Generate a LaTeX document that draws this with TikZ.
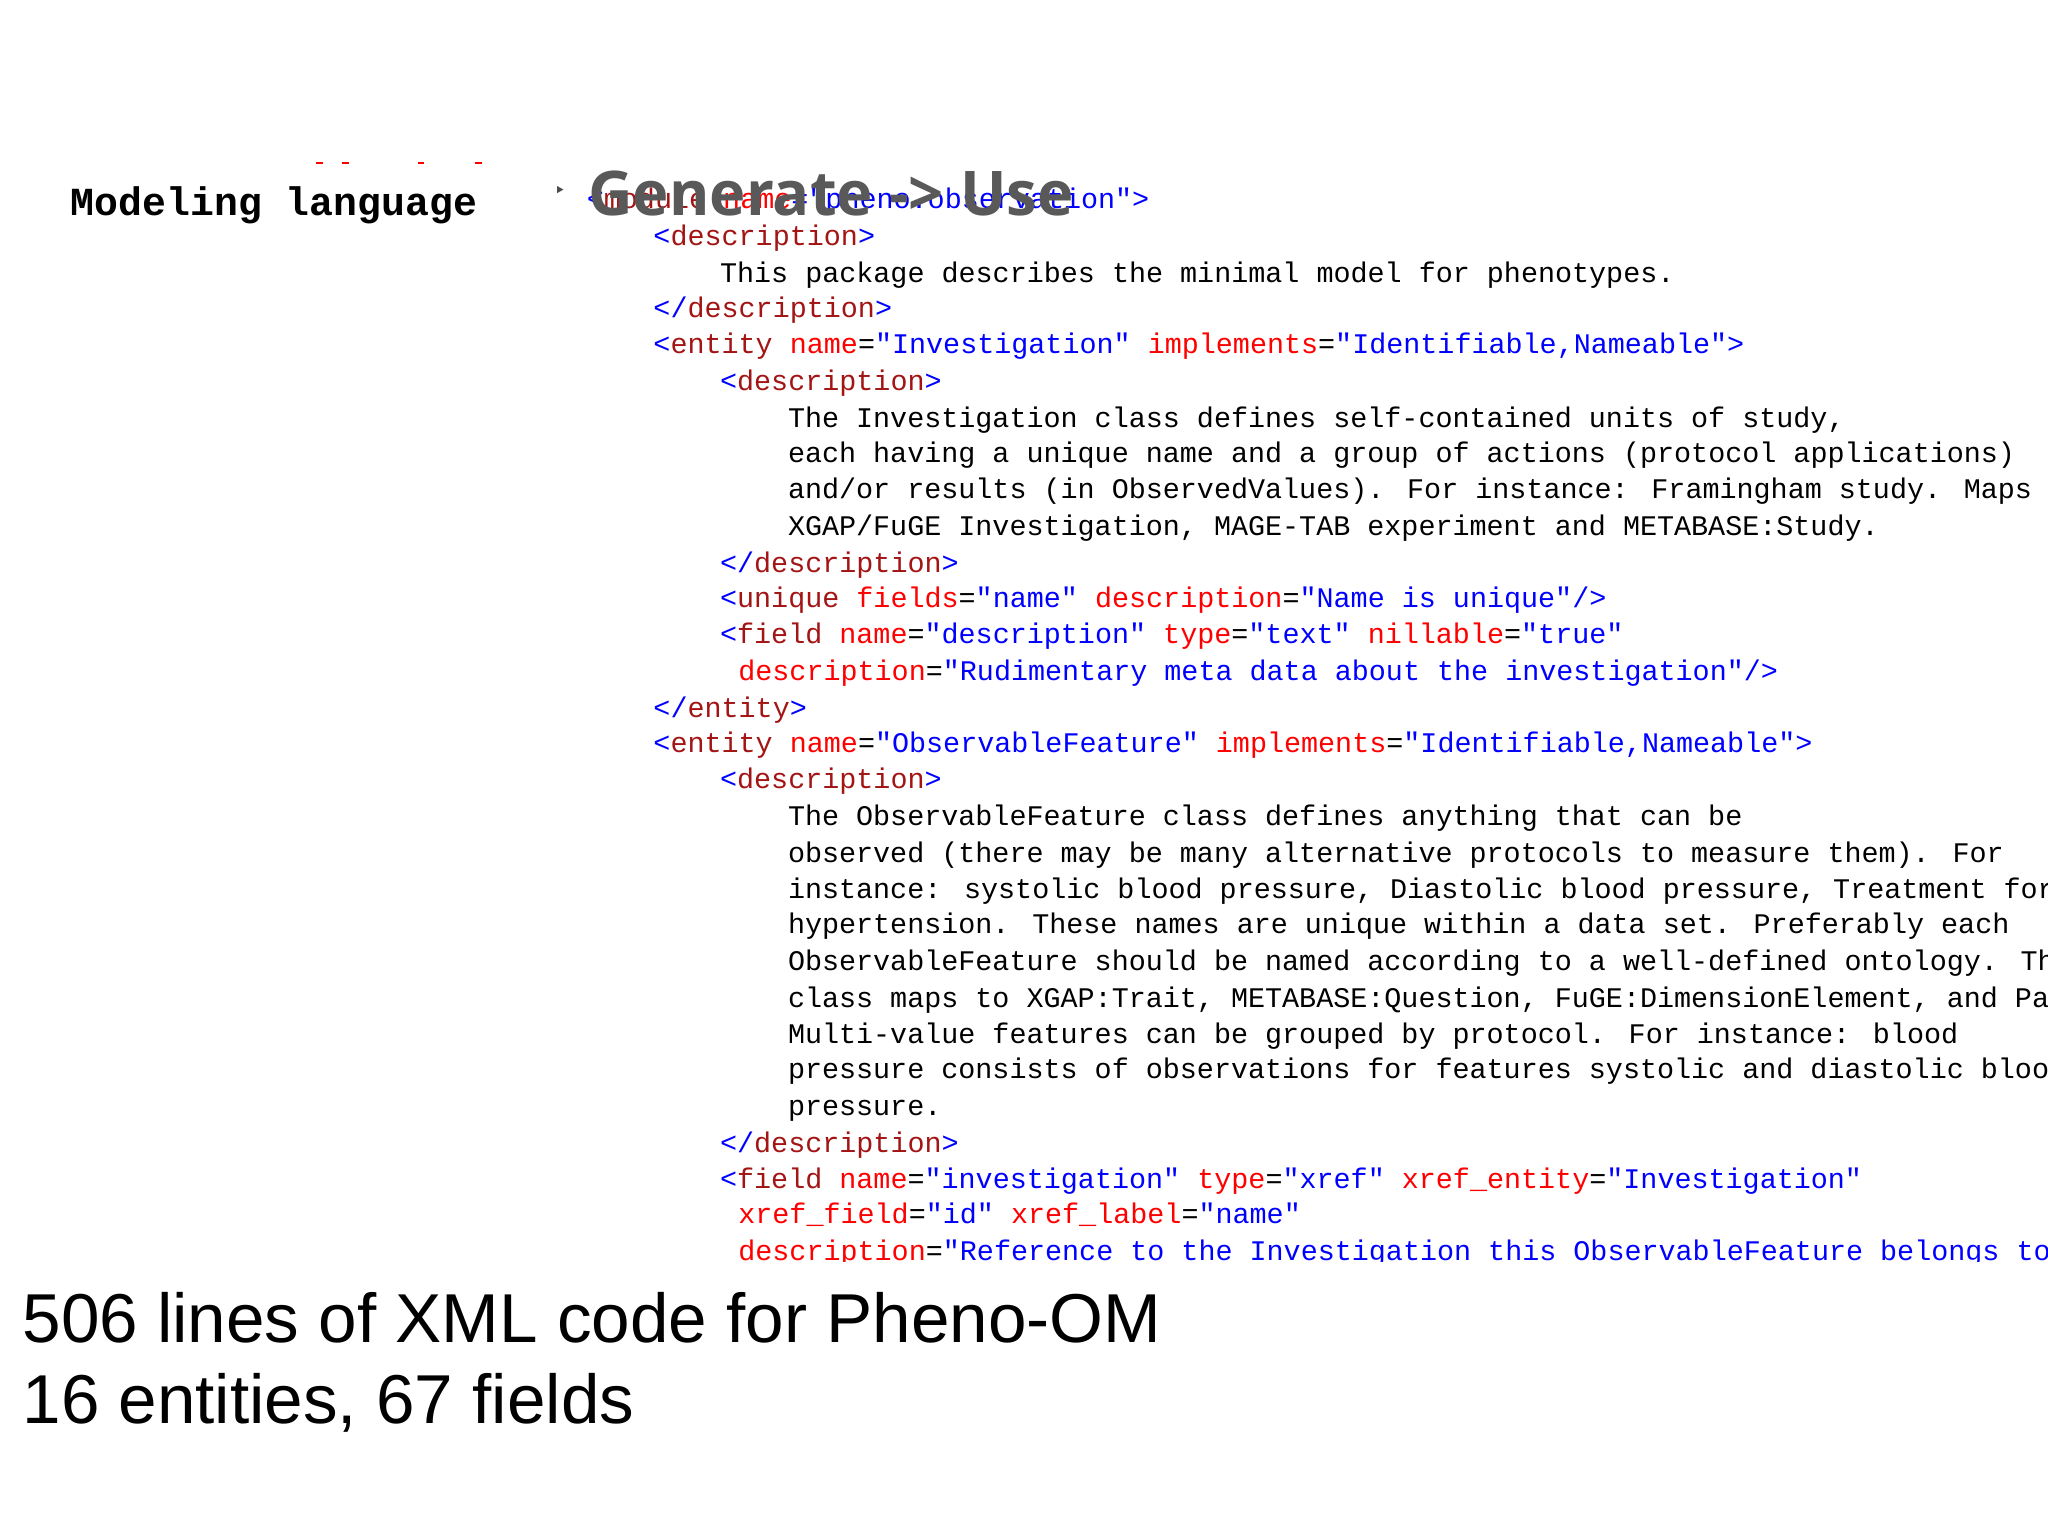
\documentclass[tikz,border=0pt]{standalone}
\usepackage{fontspec}
\setmainfont{Liberation Sans}
\newfontfamily\cf{Liberation Mono}
\newfontfamily\gf{Open Sans}
\newfontfamily\dv{DejaVu Sans}
\definecolor{tgc}{HTML}{A31515}
\definecolor{atc}{HTML}{FF0000}
\definecolor{vlc}{HTML}{0000FF}
\newcommand\Bl[1]{\textcolor{vlc}{#1}}
\newcommand\Tg[1]{\textcolor{tgc}{#1}}
\newcommand\At[1]{\textcolor{atc}{#1}}
\begin{document}
\begin{tikzpicture}[x=0.653pt,y=-0.653pt,
  code/.style={anchor=base west,inner sep=0pt,font=\cf\fontsize{14.2pt}{16pt}\selectfont}]
\useasboundingbox (0,0) rectangle (1568,1176);
\fill[white] (0,0) rectangle (1568,1176);
\node[anchor=base west,inner sep=0pt,font=\cf\bfseries\fontsize{19.9pt}{22pt}\selectfont] (ml) at (54,165) {Modeling language};
\foreach \xx in {242,262,320,364}{\draw[red,line width=1.2pt] (\xx,125) -- (\xx+5,125);}
\begin{scope}
\clip (0,0) rectangle (1568,966);
\node[code] (l0) at (449,160) {\Bl{<}\Tg{module} \At{name}\Bl{="pheno.observation">}};
\node[code] (l1) at (500,188) {\Bl{<}\Tg{description}\Bl{>}};
\node[code] (l2) at (551,216) {This package describes the minimal model for phenotypes.};
\node[code] (l3) at (500,243) {\Bl{</}\Tg{description}\Bl{>}};
\node[code] (l4) at (500,271) {\Bl{<}\Tg{entity} \At{name}=\Bl{"Investigation"} \At{implements}=\Bl{"Identifiable,Nameable">}};
\node[code] (l5) at (551,299) {\Bl{<}\Tg{description}\Bl{>}};
\node[code] (l6) at (603,327) {The Investigation class defines self-contained units of study,};
\node[code] (l7) at (603,354) {each having a unique name and a group of actions (protocol applications)};
\node[code] (l8) at (603,382) {and/or results (in ObservedValues). For instance: Framingham study. Maps to};
\node[code] (l9) at (603,410) {XGAP/FuGE Investigation, MAGE-TAB experiment and METABASE:Study.};
\node[code] (l10) at (551,438) {\Bl{</}\Tg{description}\Bl{>}};
\node[code] (l11) at (551,465) {\Bl{<}\Tg{unique} \At{fields}=\Bl{"name"} \At{description}=\Bl{"Name is unique"/>}};
\node[code] (l12) at (551,493) {\Bl{<}\Tg{field} \At{name}=\Bl{"description"} \At{type}=\Bl{"text"} \At{nillable}=\Bl{"true"}};
\node[code] (l13) at (565,521) {\At{description}=\Bl{"Rudimentary meta data about the investigation"/>}};
\node[code] (l14) at (500,549) {\Bl{</}\Tg{entity}\Bl{>}};
\node[code] (l15) at (500,576) {\Bl{<}\Tg{entity} \At{name}=\Bl{"ObservableFeature"} \At{implements}=\Bl{"Identifiable,Nameable">}};
\node[code] (l16) at (551,604) {\Bl{<}\Tg{description}\Bl{>}};
\node[code] (l17) at (603,632) {The ObservableFeature class defines anything that can be};
\node[code] (l18) at (603,660) {observed (there may be many alternative protocols to measure them). For};
\node[code] (l19) at (603,688) {instance: systolic blood pressure, Diastolic blood pressure, Treatment for};
\node[code] (l20) at (603,715) {hypertension. These names are unique within a data set. Preferably each};
\node[code] (l21) at (603,743) {ObservableFeature should be named according to a well-defined ontology. The};
\node[code] (l22) at (603,771) {class maps to XGAP:Trait, METABASE:Question, FuGE:DimensionElement, and Pato};
\node[code] (l23) at (603,799) {Multi-value features can be grouped by protocol. For instance: blood};
\node[code] (l24) at (603,826) {pressure consists of observations for features systolic and diastolic blood};
\node[code] (l25) at (603,854) {pressure.};
\node[code] (l26) at (551,882) {\Bl{</}\Tg{description}\Bl{>}};
\node[code] (l27) at (551,910) {\Bl{<}\Tg{field} \At{name}=\Bl{"investigation"} \At{type}=\Bl{"xref"} \At{xref\_entity}=\Bl{"Investigation"}};
\node[code] (l28) at (565,937) {\At{xref\_field}=\Bl{"id"} \At{xref\_label}=\Bl{"name"}};
\node[code] (l29) at (565,965) {\At{description}=\Bl{"Reference to the Investigation this ObservableFeature belongs to"}};
\end{scope}
\node[anchor=base west,inner sep=0pt,text=black!65,font=\gf\bfseries\fontsize{30.8pt}{34pt}\selectfont] (gen) at (450,165) {Generate -> Use};
\node[anchor=base west,inner sep=0pt,text=black!70,font=\dv\fontsize{10pt}{12pt}\selectfont] (bul) at (424,151) {‣};
\node[anchor=base west,inner sep=0pt,font=\fontsize{34.6pt}{40pt}\selectfont] (t1) at (17,1028) {506 lines of XML code for Pheno-OM};
\node[anchor=base west,inner sep=0pt,font=\fontsize{34.6pt}{40pt}\selectfont] (t2) at (17,1090) {16 entities, 67 fields};
\end{tikzpicture}
\end{document}
